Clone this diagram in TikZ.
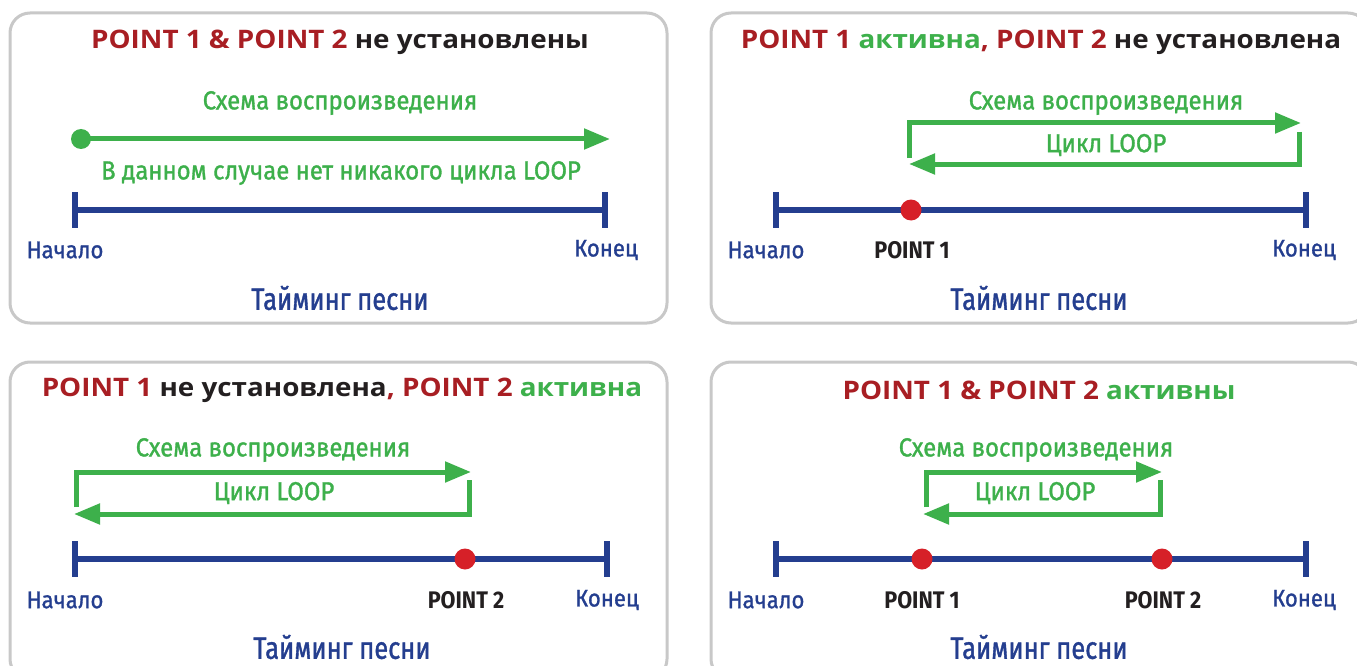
\documentclass[tikz,border=0pt]{standalone}
\usepackage{fontspec}
\setmainfont[FakeStretch=1.09]{Open Sans}
\newfontfamily\condfont[FakeStretch=0.92, FakeBold=1.2]{Fira Sans}
\newfontfamily\axisfont[FakeStretch=0.82, FakeBold=1.2]{Fira Sans}
\newfontfamily\condboldfont[FakeStretch=0.9]{Fira Sans}
\usetikzlibrary{arrows.meta,positioning}
\definecolor{loopgreen}{HTML}{3DB04B}
\definecolor{ptred}{HTML}{A81E23}
\definecolor{dotred}{HTML}{D62028}
\definecolor{lineblue}{HTML}{243E8F}
\definecolor{framegray}{HTML}{C8C8C8}
\definecolor{inkblack}{HTML}{231F20}
\newcommand{\rd}[1]{\textcolor{ptred}{#1}}
\newcommand{\gr}[1]{\textcolor{loopgreen}{#1}}

\begin{document}
\begin{tikzpicture}[x=1pt, y=-1pt,
    panel/.style={draw=framegray, line width=3pt, rounded corners=20pt, fill=white},
    title/.style={font=\fontsize{25.5}{30}\selectfont\bfseries, text=inkblack},
    flow/.style={draw=loopgreen, line width=5pt, -{Triangle[length=26pt, width=20pt]}},
    timeline/.style={draw=lineblue, line width=6pt},
    tickmark/.style={draw=lineblue, line width=6pt},
    greenlabel/.style={font=\condfont\fontsize{26}{30}\selectfont, text=loopgreen},
    endlabel/.style={font=\condfont\fontsize{24}{28}\selectfont, text=lineblue},
    ptlabel/.style={font=\condboldfont\bfseries\fontsize{24}{28}\selectfont, text=inkblack},
    axislabel/.style={font=\axisfont\fontsize{31}{36}\selectfont, text=lineblue},
    pt/.style={circle, fill=dotred, inner sep=0pt, minimum size=21pt}]
  \useasboundingbox (0,0) rectangle (1357,666);
  \clip (0,0) rectangle (1357,666);

  % panel 1: no points set
  \draw[panel] (10,13) rectangle (667,323);
  \node[title] (t1) at (340,42) {\rd{POINT 1 \& POINT 2} не установлены};
  \node[greenlabel] (play1) at (340,103) {Схема воспроизведения};
  \coordinate (go1) at (81,139);
  \coordinate (stop1) at (610,139);
  \draw[flow] (go1) -- (stop1);
  \fill[loopgreen] (go1) circle[radius=10pt];
  \node[greenlabel] (none1) at (341,173) {В данном случае нет никакого цикла LOOP};
  \coordinate (start1) at (75,210);
  \coordinate (end1) at (605,210);
  \draw[timeline] (start1) -- (end1);
  \draw[tickmark] (start1) ++(0,-18) -- ++(0,36);
  \draw[tickmark] (end1) ++(0,-18) -- ++(0,36);
  \node[endlabel] (s1) at (65,250) {Начало};
  \node[endlabel] (e1) at (606,250) {Конец};
  \node[axislabel] (ax1) at (340,298) {Тайминг песни};

  % panel 2: point 1 only
  \begin{scope}[shift={(701,0)}]
    \draw[panel] (10,13) rectangle (667,323);
    \node[title] (t2) at (340,42) {\rd{POINT 1} \gr{активна}\rd{, POINT 2} не установлена};
    \node[greenlabel] (play2) at (405,103) {Схема воспроизведения};
    \node[greenlabel] (loop2) at (405,145) {Цикл LOOP};
    \coordinate (start2) at (75,210);
    \coordinate (end2) at (605,210);
    \draw[flow] (208,158) |- (600,123);
    \draw[flow] (598,132) |- (208,164);
    \draw[timeline] (start2) -- (end2);
    \draw[tickmark] (start2) ++(0,-18) -- ++(0,36);
    \draw[tickmark] (end2) ++(0,-18) -- ++(0,36);
    \node[pt] (p2a) at (210,210) {};
    \node[endlabel] (s2) at (65,250) {Начало};
    \node[ptlabel] (l2a) at (211,250) {POINT 1};
    \node[endlabel] (e2) at (603,250) {Конец};
    \node[axislabel] (ax2) at (338,298) {Тайминг песни};
  \end{scope}

  % panel 3: point 2 only
  \begin{scope}[shift={(0,349)}]
    \draw[panel] (10,13) rectangle (667,330);
    \node[title] (t3) at (342,41) {\rd{POINT 1} не установлена\rd{, POINT 2} \gr{активна}};
    \node[greenlabel] (play3) at (273,101) {Схема воспроизведения};
    \node[greenlabel] (loop3) at (274,144) {Цикл LOOP};
    \coordinate (start3) at (75,210);
    \coordinate (end3) at (607,210);
    \draw[flow] (76,158) |- (471,123);
    \draw[flow] (469,131) |- (74,165);
    \draw[timeline] (start3) -- (end3);
    \draw[tickmark] (start3) ++(0,-18) -- ++(0,36);
    \draw[tickmark] (end3) ++(0,-18) -- ++(0,36);
    \node[pt] (p3b) at (465,210) {};
    \node[endlabel] (s3) at (65,251) {Начало};
    \node[ptlabel] (l3b) at (466,251) {POINT 2};
    \node[endlabel] (e3) at (607,251) {Конец};
    \node[axislabel] (ax3) at (342,298) {Тайминг песни};
  \end{scope}

  % panel 4: both points
  \begin{scope}[shift={(701,349)}]
    \draw[panel] (10,13) rectangle (667,330);
    \node[title] (t4) at (338,41) {\rd{POINT 1 \& POINT 2} \gr{активны}};
    \node[greenlabel] (play4) at (335,101) {Схема воспроизведения};
    \node[greenlabel] (loop4) at (334,144) {Цикл LOOP};
    \coordinate (start4) at (75,210);
    \coordinate (end4) at (605,210);
    \draw[flow] (225,158) |- (461,123);
    \draw[flow] (459,131) |- (222,165);
    \draw[timeline] (start4) -- (end4);
    \draw[tickmark] (start4) ++(0,-18) -- ++(0,36);
    \draw[tickmark] (end4) ++(0,-18) -- ++(0,36);
    \node[pt] (p4a) at (221,210) {};
    \node[pt] (p4b) at (461,210) {};
    \node[endlabel] (s4) at (65,251) {Начало};
    \node[ptlabel] (l4a) at (221,251) {POINT 1};
    \node[ptlabel] (l4b) at (462,251) {POINT 2};
    \node[endlabel] (e4) at (603,251) {Конец};
    \node[axislabel] (ax4) at (338,298) {Тайминг песни};
  \end{scope}
\end{tikzpicture}
\end{document}
